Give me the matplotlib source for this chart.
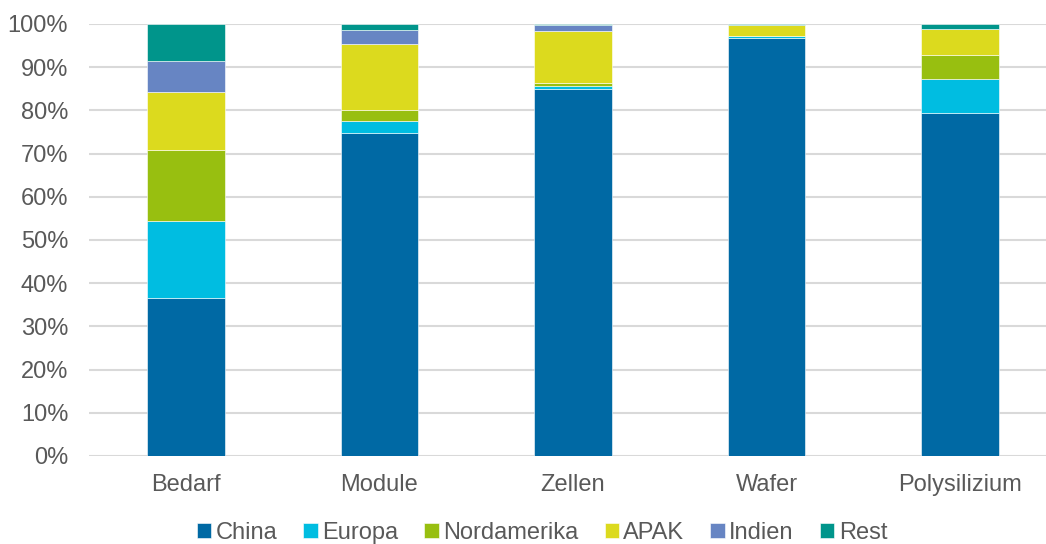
import matplotlib
matplotlib.use('Agg')
import matplotlib.pyplot as plt
import numpy as np

categories = ['Bedarf', 'Module', 'Zellen', 'Wafer', 'Polysilizium']
series_names = ['China', 'Europa', 'Nordamerika', 'APAK', 'Indien', 'Rest']

china = [36.6, 74.7, 85.0, 96.8, 79.3]
europa = [17.8, 2.8, 0.6, 0.5, 8.0]
nordamerika = [16.4, 2.7, 0.7, 0.0, 5.5]
apak = [13.5, 15.2, 12.1, 2.5, 6.0]
indien = [7.1, 3.1, 1.3, 0.0, 0.0]
rest = [8.6, 1.5, 0.3, 0.2, 1.2]

colors = ['#0069A4', '#00BDE1', '#98BF10', '#DCDA1E', '#6785C3', '#00958B']

plt.rcParams['font.family'] = ['Liberation Sans', 'DejaVu Sans']

fig = plt.figure(figsize=(10.46, 5.44), dpi=100)
ax = fig.add_axes([89 / 1046, 88 / 544, 968 / 1046, 432 / 544])

x = np.arange(len(categories))
bottom = np.zeros(len(categories))
for name, vals, col in zip(series_names, [china, europa, nordamerika, apak, indien, rest], colors):
    vals = np.array(vals)
    ax.bar(x, vals, width=0.4, bottom=bottom, color=col, label=name,
           edgecolor='#ffffff', linewidth=0.4, zorder=3)
    bottom += vals

ax.set_xlim(-0.5, len(categories) - 0.5)
ax.set_ylim(0, 100)
ax.set_yticks(np.arange(0, 101, 10))
ax.set_yticklabels([f'{v}%' for v in range(0, 101, 10)])
ax.set_xticks(x)
ax.set_xticklabels(categories)
ax.grid(axis='y', color='#D9D9D9', linewidth=1.5, zorder=0)
for s in ax.spines.values():
    s.set_visible(False)
ax.tick_params(axis='both', length=0, labelsize=17, labelcolor='#595959')
ax.tick_params(axis='y', pad=15)
ax.tick_params(axis='x', pad=13)

fig.legend(*ax.get_legend_handles_labels(), loc='center', bbox_to_anchor=(542 / 1046, 11 / 544),
           ncol=6, frameon=False, fontsize=17, labelcolor='#595959',
           handlelength=0.6, handleheight=0.6, handletextpad=0.2, columnspacing=1.1)

fig.savefig('out.png', dpi=100)
